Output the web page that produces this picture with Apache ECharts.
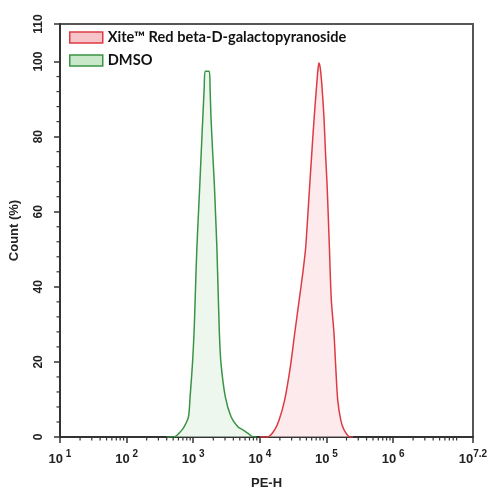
<!DOCTYPE html>
<html>
<head>
<meta charset="utf-8">
<script src="https://cdn.jsdelivr.net/npm/echarts@6/dist/echarts.min.js"></script>
<style>html,body{margin:0;padding:0;background:#fff;}#c{width:492px;height:499px;}</style>
</head>
<body>
<div id="c"></div>
<script>
// Series names
const seriesNames = ['Xite™ Red beta-D-galactopyranoside', 'DMSO'];
// x values are log10(PE-H)
const redX = [4.00, 4.122, 4.222, 4.289, 4.373, 4.459, 4.524, 4.591, 4.64, 4.686, 4.72, 4.751, 4.785, 4.817, 4.85, 4.872, 4.887, 4.905, 4.93, 4.962, 4.985, 5.008, 5.027, 5.045, 5.073, 5.113, 5.139, 5.169, 5.215, 5.264, 5.355, 5.40];
const redY = [0, 0, 1.9, 4.5, 9.9, 18.8, 27.7, 36.5, 43, 50, 59, 67.7, 77, 85.4, 93, 97.8, 99.6, 98.5, 94, 85.4, 76, 67.7, 59, 50, 36.5, 27.7, 18.8, 9.9, 4.5, 1.9, 0, 0];
const greenX = [2.60, 2.711, 2.787, 2.863, 2.929, 2.953, 2.989, 3.014, 3.035, 3.054, 3.077, 3.10, 3.122, 3.145, 3.165, 3.18, 3.24, 3.253, 3.266, 3.29, 3.316, 3.336, 3.356, 3.391, 3.417, 3.482, 3.568, 3.669, 3.745, 3.82, 3.905, 3.95];
const greenY = [0, 0, 1, 2.7, 5.4, 10.7, 19.6, 28.5, 40, 50, 59, 67.7, 76.5, 85.4, 93, 97.4, 97.4, 93, 85.4, 76.5, 67.7, 59, 50, 28.5, 19.6, 10.7, 5.4, 2.7, 1.9, 1, 0, 0];
// Axis ticks
const xMin = 1, xMax = 7.2, xInterval = 1;
const yMin = 0, yMax = 110, yInterval = 20;
const xMinorTicks = [];
for (let d = 1; d < 7; d++) { for (let k = 2; k <= 9; k++) { xMinorTicks.push(d + Math.log10(k)); } }
const yMinorTicks = [4, 8, 12, 16, 24, 28, 32, 36, 44, 48, 52, 56, 64, 68, 72, 76, 84, 88, 92, 96];

const zip = (xs, ys) => xs.map((x, i) => [x, ys[i]]);
const AX = '#333';
const chart = echarts.init(document.getElementById('c'), null, {renderer: 'canvas'});
chart.setOption({
  animation: false,
  backgroundColor: '#fff',
  grid: {left: 60, right: 19, top: 24, bottom: 62, show: true, borderColor: '#555', borderWidth: 2},
  legend: {
    orient: 'vertical', left: 64, top: 25, itemWidth: 33, itemHeight: 11, itemGap: 8, icon: 'rect',
    textStyle: {fontFamily: 'Lato', fontWeight: 'bold', fontSize: 14.6, color: '#111', lineHeight: 14},
    data: [
      {name: seriesNames[0], itemStyle: {color: '#f7c5c9', borderColor: '#dd3b44', borderWidth: 1.5}},
      {name: seriesNames[1], itemStyle: {color: '#c9e7c9', borderColor: '#3a9444', borderWidth: 1.5}}
    ]
  },
  xAxis: {
    type: 'value', min: xMin, max: xMax, interval: xInterval,
    name: 'PE-H', nameLocation: 'middle', nameGap: 40,
    nameTextStyle: {fontFamily: 'Liberation Sans', fontWeight: 'bold', fontSize: 13, color: '#222'},
    axisLine: {lineStyle: {color: AX, width: 2}},
    axisTick: {show: true, length: 6, lineStyle: {color: AX, width: 1.5}},
    splitLine: {show: false},
    axisLabel: {
      margin: 14, showMaxLabel: true,
      formatter: function (v) {
        const e = Math.round(v * 10) / 10;
        return '{b|10}{s|' + (Number.isInteger(e) ? ' ' + e : e) + '}';
      },
      rich: {
        b: {fontFamily: 'Liberation Sans', fontWeight: 'bold', fontSize: 13, color: '#222', lineHeight: 16},
        s: {fontFamily: 'Liberation Sans', fontWeight: 'bold', fontSize: 10, color: '#222', lineHeight: 10, padding: [0, 0, 9, 0]}
      }
    }
  },
  yAxis: {
    type: 'value', min: yMin, max: yMax, interval: yInterval,
    name: 'Count (%)', nameLocation: 'middle', nameGap: 39,
    nameTextStyle: {fontFamily: 'Liberation Sans', fontWeight: 'bold', fontSize: 13, color: '#222'},
    axisLine: {show: true, lineStyle: {color: AX, width: 2}},
    axisTick: {show: true, length: 6, lineStyle: {color: AX, width: 1.5}},
    splitLine: {show: false},
    axisLabel: {rotate: 90, margin: 15, showMaxLabel: true, fontFamily: 'Liberation Sans', fontWeight: 'bold', fontSize: 12, color: '#222'}
  },
  series: [
    {
      name: seriesNames[0], type: 'line', data: zip(redX, redY), smooth: 0.25, showSymbol: false, symbol: 'none',
      lineStyle: {color: '#dd3b44', width: 1.5}, itemStyle: {color: '#dd3b44'},
      areaStyle: {color: 'rgba(252,220,223,0.85)'}, z: 3
    },
    {
      name: seriesNames[1], type: 'line', data: zip(greenX, greenY), smooth: 0.25, showSymbol: false, symbol: 'none',
      lineStyle: {color: '#3a9444', width: 1.5}, itemStyle: {color: '#3a9444'},
      areaStyle: {color: 'rgba(224,241,224,0.85)'}, z: 3
    },
    {
      type: 'custom', clip: false, silent: true, z: 5,
      data: xMinorTicks.map(x => [x, 0]),
      renderItem: function (params, api) {
        const p = api.coord([api.value(0), 0]);
        return {type: 'line', shape: {x1: p[0], y1: p[1], x2: p[0], y2: p[1] + 3.5}, style: {stroke: AX, lineWidth: 1.2}};
      }
    },
    {
      type: 'custom', clip: false, silent: true, z: 5,
      data: yMinorTicks.map(y => [xMin, y]),
      renderItem: function (params, api) {
        const p = api.coord([xMin, api.value(1)]);
        return {type: 'line', shape: {x1: p[0], y1: p[1], x2: p[0] - 3.5, y2: p[1]}, style: {stroke: AX, lineWidth: 1.2}};
      }
    }
  ]
});
</script>
</body>
</html>
